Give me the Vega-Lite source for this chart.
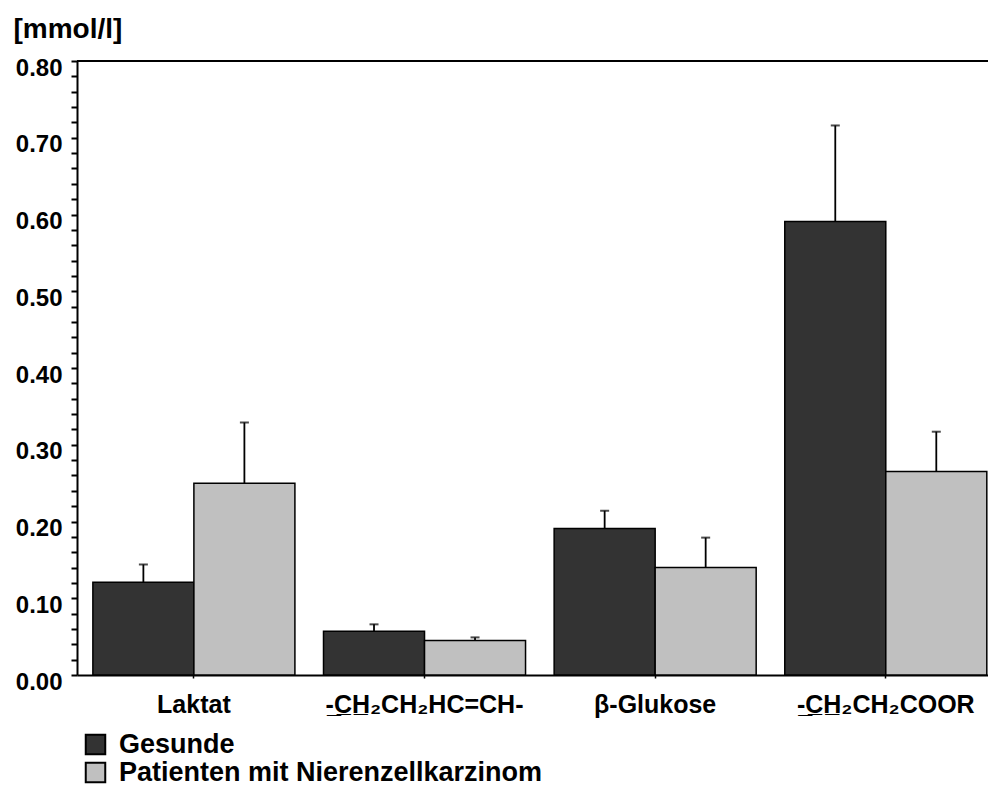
{
  "$schema": "https://vega.github.io/schema/vega-lite/v6.json",
  "width": 911,
  "height": 614,
  "autosize": {"type": "none"},
  "padding": {"left": 77, "top": 61, "right": 0, "bottom": 110},
  "background": "white",
  "config": {
    "view": {"stroke": null},
    "font": "Liberation Sans",
    "axisX": {
      "labelAngle": 0, "labelFontSize": 25, "labelFontWeight": "bold",
      "labelColor": "black", "domainColor": "black", "domainWidth": 2,
      "tickColor": "black", "tickSize": 3, "tickWidth": 1.5, "labelLimit": 0,
      "labelPadding": 34, "labelBaseline": "alphabetic"
    },
    "axisY": {
      "titleAngle": 0, "titleAlign": "left", "titleBaseline": "alphabetic",
      "titleX": -64, "titleY": -24, "titleFontSize": 28, "titleFontWeight": "bold", "titleColor": "black",
      "labelFontSize": 24, "labelFontWeight": "bold", "labelColor": "black", "labelPadding": 9,
      "labelBaseline": "middle", "labelOffset": 7,
      "tickSize": 6, "tickWidth": 2, "tickColor": "black",
      "domainWidth": 2, "domainColor": "black", "grid": false, "labelFlush": false, "labelOverlap": false
    }
  },
  "data": {
    "values": [
      {"category": "Laktat", "group": "Gesunde", "value": 0.121, "upper": 0.144},
      {"category": "Laktat", "group": "Patienten mit Nierenzellkarzinom", "value": 0.250, "upper": 0.329},
      {"category": "-\u0332C\u0332H\u0332₂CH₂HC=CH-", "group": "Gesunde", "value": 0.057, "upper": 0.066},
      {"category": "-\u0332C\u0332H\u0332₂CH₂HC=CH-", "group": "Patienten mit Nierenzellkarzinom", "value": 0.045, "upper": 0.049},
      {"category": "β-Glukose", "group": "Gesunde", "value": 0.191, "upper": 0.214},
      {"category": "β-Glukose", "group": "Patienten mit Nierenzellkarzinom", "value": 0.140, "upper": 0.179},
      {"category": "-\u0332C\u0332H\u0332₂CH₂COOR", "group": "Gesunde", "value": 0.591, "upper": 0.716},
      {"category": "-\u0332C\u0332H\u0332₂CH₂COOR", "group": "Patienten mit Nierenzellkarzinom", "value": 0.265, "upper": 0.317}
    ]
  },
  "layer": [
    {
      "mark": {"type": "bar", "stroke": "black", "strokeWidth": 1.5},
      "encoding": {
        "x": {
          "field": "category", "type": "nominal",
          "sort": ["Laktat", "-\u0332C\u0332H\u0332₂CH₂HC=CH-", "β-Glukose", "-\u0332C\u0332H\u0332₂CH₂COOR"],
          "scale": {"paddingInner": 0.124, "paddingOuter": 0.037, "align": 0.93},
          "axis": {"title": null}
        },
        "xOffset": {"field": "group", "type": "nominal", "scale": {"paddingInner": 0, "paddingOuter": 0}},
        "y": {
          "field": "value", "type": "quantitative",
          "scale": {"domain": [0, 0.8], "nice": false},
          "axis": {
            "title": "[mmol/l]",
            "values": [0,0.02,0.04,0.06,0.08,0.1,0.12,0.14,0.16,0.18,0.2,0.22,0.24,0.26,0.28,0.3,0.32,0.34,0.36,0.38,0.4,0.42,0.44,0.46,0.48,0.5,0.52,0.54,0.56,0.58,0.6,0.62,0.64,0.66,0.68,0.7,0.72,0.74,0.76,0.78,0.8],
            "labelExpr": "round(datum.value*100) % 10 == 0 ? format(datum.value, '.2f') : ''"
          }
        },
        "color": {
          "field": "group", "type": "nominal",
          "scale": {"domain": ["Gesunde", "Patienten mit Nierenzellkarzinom"], "range": ["#333333", "#c0c0c0"]},
          "legend": {
            "orient": "none", "legendX": 5, "legendY": 670, "title": null, "padding": 0,
            "symbolType": "square", "symbolSize": 380, "symbolStrokeColor": "black", "symbolStrokeWidth": 2,
            "symbolOpacity": 1, "labelLimit": 0,
            "labelFontSize": 27, "labelFontWeight": "bold", "labelColor": "black", "labelOffset": 10, "rowPadding": -4
          }
        }
      }
    },
    {
      "mark": {"type": "rule", "color": "black", "strokeWidth": 1.8},
      "encoding": {
        "x": {"field": "category", "type": "nominal", "sort": ["Laktat", "-\u0332C\u0332H\u0332₂CH₂HC=CH-", "β-Glukose", "-\u0332C\u0332H\u0332₂CH₂COOR"], "axis": {"title": null}},
        "xOffset": {"field": "group", "type": "nominal"},
        "y": {
          "field": "value", "type": "quantitative",
          "axis": {
            "title": "[mmol/l]",
            "values": [0,0.02,0.04,0.06,0.08,0.1,0.12,0.14,0.16,0.18,0.2,0.22,0.24,0.26,0.28,0.3,0.32,0.34,0.36,0.38,0.4,0.42,0.44,0.46,0.48,0.5,0.52,0.54,0.56,0.58,0.6,0.62,0.64,0.66,0.68,0.7,0.72,0.74,0.76,0.78,0.8],
            "labelExpr": "round(datum.value*100) % 10 == 0 ? format(datum.value, '.2f') : ''"
          }
        },
        "y2": {"field": "upper"}
      }
    },
    {
      "mark": {"type": "tick", "color": "black", "size": 9, "thickness": 2},
      "encoding": {
        "x": {"field": "category", "type": "nominal", "sort": ["Laktat", "-\u0332C\u0332H\u0332₂CH₂HC=CH-", "β-Glukose", "-\u0332C\u0332H\u0332₂CH₂COOR"], "axis": {"title": null}},
        "xOffset": {"field": "group", "type": "nominal"},
        "y": {
          "field": "upper", "type": "quantitative",
          "axis": {
            "title": "[mmol/l]",
            "values": [0,0.02,0.04,0.06,0.08,0.1,0.12,0.14,0.16,0.18,0.2,0.22,0.24,0.26,0.28,0.3,0.32,0.34,0.36,0.38,0.4,0.42,0.44,0.46,0.48,0.5,0.52,0.54,0.56,0.58,0.6,0.62,0.64,0.66,0.68,0.7,0.72,0.74,0.76,0.78,0.8],
            "labelExpr": "round(datum.value*100) % 10 == 0 ? format(datum.value, '.2f') : ''"
          }
        }
      }
    },
    {
      "mark": {"type": "rule", "color": "black", "strokeWidth": 1.5},
      "encoding": {
        "y": {
          "datum": 0.8,
          "axis": {
            "title": "[mmol/l]",
            "values": [0,0.02,0.04,0.06,0.08,0.1,0.12,0.14,0.16,0.18,0.2,0.22,0.24,0.26,0.28,0.3,0.32,0.34,0.36,0.38,0.4,0.42,0.44,0.46,0.48,0.5,0.52,0.54,0.56,0.58,0.6,0.62,0.64,0.66,0.68,0.7,0.72,0.74,0.76,0.78,0.8],
            "labelExpr": "round(datum.value*100) % 10 == 0 ? format(datum.value, '.2f') : ''"
          }
        }
      }
    }
  ]
}
